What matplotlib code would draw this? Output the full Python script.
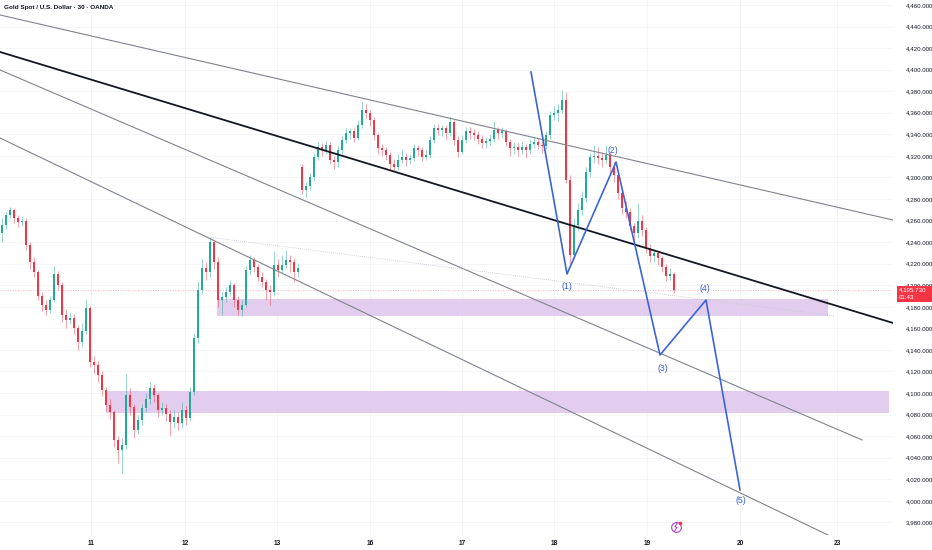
import matplotlib
matplotlib.use("Agg")
import matplotlib.pyplot as plt
from matplotlib.patches import Rectangle

# ---------------- data ----------------
title = "Gold Spot / U.S. Dollar \u00b7 30 \u00b7 OANDA"
first_open = 4248
gap_opens = {75: 4310}

closes = [
    4256, 4265, 4270, 4262, 4259, 4260, 4237, 4222, 4212, 4190,
    4182, 4177, 4186, 4210, 4200, 4172, 4168, 4170, 4160, 4147,
    4158, 4179, 4129, 4126, 4117, 4103, 4089, 4082, 4056, 4047,
    4052, 4098, 4087, 4066, 4075, 4086, 4094, 4105, 4098, 4084,
    4086, 4081, 4073, 4078, 4072, 4084, 4077, 4101, 4151, 4196,
    4216, 4212, 4240, 4222, 4186, 4189, 4194, 4200, 4186, 4177,
    4182, 4214, 4223, 4217, 4208, 4203, 4196, 4194, 4219, 4214,
    4219, 4223, 4222, 4212, 4216, 4288, 4292, 4300, 4319, 4328,
    4325, 4330, 4316, 4314, 4325, 4335, 4341, 4343, 4337, 4349,
    4363, 4360, 4353, 4339, 4327, 4325, 4321, 4312, 4310, 4316,
    4319, 4316, 4318, 4327, 4325, 4319, 4321, 4335, 4346, 4344,
    4346, 4341, 4351, 4335, 4324, 4335, 4343, 4341, 4339, 4336,
    4332, 4334, 4336, 4344, 4341, 4343, 4333, 4327, 4328, 4325,
    4328, 4325, 4331, 4333, 4330, 4329, 4339, 4358, 4360, 4363,
    4372, 4298, 4228, 4256, 4270, 4281, 4305, 4319, 4320, 4318,
    4316, 4321, 4310, 4302, 4286, 4272, 4268, 4255, 4248, 4260,
    4251, 4235, 4227, 4230, 4225, 4217, 4209, 4210, 4195.73,
]
highs = [
    4262, 4268, 4273, 4272, 4265, 4264, 4262, 4240, 4226, 4214,
    4194, 4186, 4190, 4218, 4213, 4203, 4178, 4175, 4173, 4163,
    4165, 4187, 4181, 4134, 4130, 4120, 4106, 4094, 4084, 4060,
    4058, 4118, 4105, 4090, 4080, 4090, 4100, 4110, 4108, 4100,
    4092, 4090, 4084, 4084, 4082, 4092, 4088, 4106, 4156, 4204,
    4224, 4222, 4245, 4242, 4226, 4194, 4198, 4205, 4202, 4190,
    4186, 4218, 4228, 4226, 4220, 4212, 4206, 4200, 4232, 4224,
    4228, 4233, 4228, 4225, 4221, 4312, 4296, 4304, 4323, 4333,
    4332, 4334, 4333, 4320, 4329, 4339, 4346, 4346, 4346, 4353,
    4370, 4368, 4363, 4356, 4341, 4331, 4328, 4324, 4317, 4322,
    4326, 4323, 4322, 4331, 4330, 4328, 4326, 4338, 4350, 4350,
    4349, 4349, 4356, 4353, 4338, 4339, 4347, 4347, 4345, 4343,
    4339, 4337, 4340, 4352, 4347, 4347, 4345, 4336, 4333, 4332,
    4334, 4331, 4336, 4338, 4337, 4334, 4343, 4362, 4366, 4368,
    4381, 4379, 4302, 4262, 4276, 4287, 4310, 4323, 4330, 4328,
    4324, 4330, 4324, 4314, 4305, 4289, 4278, 4272, 4258, 4276,
    4265, 4254, 4238, 4234, 4233, 4227, 4220, 4216, 4212,
]
lows = [
    4240, 4252, 4262, 4258, 4254, 4255, 4233, 4215, 4208, 4186,
    4176, 4172, 4174, 4184, 4196, 4166, 4160, 4164, 4155, 4140,
    4143, 4155, 4124, 4118, 4110, 4097, 4083, 4076, 4050, 4035,
    4026, 4048, 4080, 4058, 4062, 4070, 4082, 4090, 4092, 4078,
    4080, 4074, 4060, 4068, 4066, 4068, 4070, 4074, 4098, 4146,
    4192, 4205, 4208, 4215, 4180, 4172, 4184, 4190, 4180, 4172,
    4171, 4180, 4210, 4212, 4204, 4198, 4186, 4182, 4190, 4208,
    4210, 4216, 4212, 4203, 4208, 4285, 4282, 4288, 4297, 4316,
    4320, 4322, 4312, 4308, 4310, 4322, 4332, 4336, 4333, 4335,
    4346, 4355, 4348, 4335, 4322, 4320, 4316, 4308, 4306, 4307,
    4313, 4311, 4312, 4315, 4320, 4315, 4316, 4318, 4332, 4339,
    4338, 4336, 4338, 4330, 4319, 4322, 4332, 4336, 4335, 4331,
    4327, 4327, 4330, 4333, 4336, 4337, 4329, 4320, 4322, 4320,
    4322, 4318, 4322, 4327, 4326, 4323, 4326, 4336, 4353, 4352,
    4360, 4295, 4220, 4224, 4250, 4265, 4277, 4300, 4313, 4312,
    4310, 4312, 4305, 4296, 4280, 4266, 4262, 4250, 4242, 4244,
    4246, 4230, 4222, 4222, 4219, 4212, 4204, 4205, 4193,
]

day_labels = ['11', '12', '13', '16', '17', '18', '19', '20', '23']
day_bars = [22.75, 46.25, 69.25, 92.5, 115.5, 138.5, 161.75, 185, 209.25]
price_ticks = list(range(3980, 4461, 20))
last_price = 4195.73
countdown = "01:43"

# drawing anchors (bar index, price)
line_top_x, line_top_y = [0, 223.25], [4450.7, 4260.5]
line_mid_x, line_mid_y = [0, 223.25], [4416.4, 4165.0]
line_ch2_x, line_ch2_y = [0, 215.5], [4399.7, 4056.5]
line_ch3_x, line_ch3_y = [0, 207.5], [4336.6, 3967.4]
dotted_x, dotted_y = [51.75, 208.75], [4244.8, 4171.5]
zone1_x, zone1_y = [54.25, 207], [4171.5, 4187.3]
zone2_x, zone2_y = [26.5, 222.25], [4081.5, 4102.0]
wave_x = [132.75, 141.75, 154, 165, 176.5, 185]
wave_y = [4397.8, 4210.4, 4314.3, 4135.3, 4186.3, 4010.1]
wave_labels = ['(1)', '(2)', '(3)', '(4)', '(5)']
wave_label_x = [141.75, 153.25, 165.75, 176.25, 185.25]
wave_label_y = [4198.8, 4325.0, 4122.7, 4197.0, 4000.4]

# ---------------- figure ----------------
plt.rcParams['font.family'] = ['Liberation Sans', 'DejaVu Sans']
W, H = 932, 550
fig = plt.figure(figsize=(W / 100, H / 100), dpi=100)
fig.patch.set_facecolor('white')
ax = fig.add_axes([0, 15 / H, 893 / W, 1 - 15 / H])
ax.set_xlim(0, 223.25)
ax.set_ylim(3968.3, 4464.6)
for s in ax.spines.values():
    s.set_visible(False)

grid_c = '#f3f4f7'
for p in price_ticks:
    ax.axhline(p, color=grid_c, lw=0.6, zorder=0)
for d in day_bars:
    ax.axvline(d, color=grid_c, lw=0.6, zorder=0)

# zones
for zx, zy in [(zone1_x, zone1_y), (zone2_x, zone2_y)]:
    ax.add_patch(Rectangle((zx[0], zy[0]), zx[1] - zx[0], zy[1] - zy[0],
                           facecolor='#e3cdee', edgecolor='none', zorder=1))

# current price line
ax.axhline(last_price, color='#f7a1a8', lw=0.6, ls=(0, (1, 2)), zorder=1)

# candles
opens = [first_open] + closes[:-1]
for k, v in gap_opens.items():
    opens[k] = v
up_c, dn_c = '#22ab94', '#f23645'
for i, (o, h, l, c) in enumerate(zip(opens, highs, lows, closes)):
    x = i + 0.5
    col = up_c if c >= o else dn_c
    ax.vlines(x, l, h, color=col, lw=0.6, alpha=0.55, zorder=3)
    bot = min(o, c)
    hgt = max(abs(c - o), 0.8)
    ax.bar(x, hgt, bottom=bot, width=0.66, color=col, edgecolor='none', zorder=4)

# trend lines
ax.plot(line_top_x, line_top_y, color='#80838d', lw=0.8, zorder=5)
ax.plot(line_mid_x, line_mid_y, color='#131722', lw=1.3, zorder=5)
ax.plot(line_ch2_x, line_ch2_y, color='#80838d', lw=0.8, zorder=5)
ax.plot(line_ch3_x, line_ch3_y, color='#80838d', lw=0.8, zorder=5)
ax.plot(dotted_x, dotted_y, color='#c3c5cc', lw=0.6, ls=(0, (1, 1.5)), zorder=5)

# wave
blue = '#3b63dc'
ax.plot(wave_x, wave_y, color=blue, lw=1.2, zorder=6)
for t, x, y in zip(wave_labels, wave_label_x, wave_label_y):
    ax.text(x, y, t, color=blue, fontsize=6.3, ha='center', va='center', zorder=7)

# lightning icon
ix, iy = 169, 3975.8
ax.plot([ix], [iy], marker='o', ms=7, mfc='white', mec='#b13bd0', mew=0.8,
        zorder=8, clip_on=False)
ax.plot([ix + 0.35, ix - 0.25, ix + 0.25, ix - 0.35],
        [iy + 4.0, iy + 0.2, iy - 0.2, iy - 4.0], color='#b13bd0', lw=0.7,
        zorder=9, clip_on=False)
ax.plot([ix + 0.9], [iy + 3.8], marker='o', ms=1.6, color='#f23645', zorder=9,
        clip_on=False)

# axes ticks (the 4,200 label sits behind the last-price box, as in the reference)
ax.yaxis.tick_right()
ax.set_yticks(price_ticks)
ax.set_yticklabels([f"{p:,.3f}" for p in price_ticks])
ax.tick_params(axis='y', length=0, pad=9, labelsize=4.4, labelcolor='#131722')
ax.set_xticks(day_bars)
ax.set_xticklabels(day_labels)
ax.tick_params(axis='x', length=0, pad=3.5, labelsize=4.7, labelcolor='#131722')
for lab in ax.get_xticklabels():
    lab.set_fontweight('bold')

# last price box
fig.patches.append(Rectangle((897 / W, 1 - 302 / H), 35 / W, 16 / H,
                             transform=fig.transFigure, facecolor='#f23645',
                             edgecolor='none', zorder=10))
fig.text(899 / W, 1 - 289.5 / H, f"{last_price:,.3f}", color='white',
         fontsize=4.4, ha='left', va='center', zorder=11)
fig.text(899 / W, 1 - 297.5 / H, countdown, color='white', fontsize=4.4,
         ha='left', va='center', zorder=11)

# title
fig.text(4 / W, 1 - 8 / H, title, fontsize=4.6, fontweight='bold',
         color='#131722', ha='left', va='center')

fig.savefig('out.png', dpi=100, facecolor='white')
